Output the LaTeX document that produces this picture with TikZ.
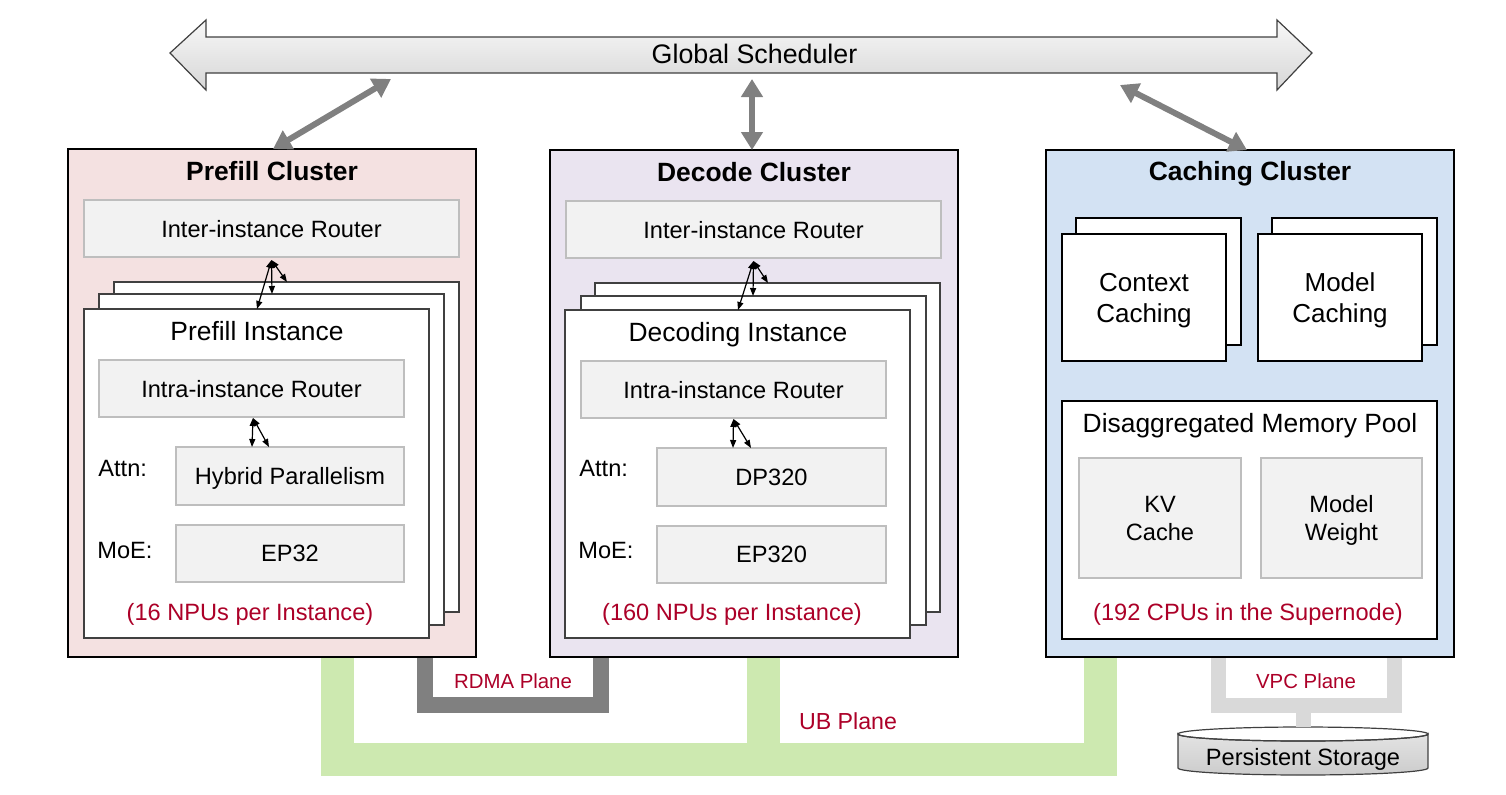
\documentclass[tikz,border=0pt]{standalone}
\usepackage{fontspec}
\setmainfont{Liberation Sans}
\usetikzlibrary{arrows.meta,calc}
\definecolor{pfill}{RGB}{244,225,225}
\definecolor{dfill}{RGB}{234,228,240}
\definecolor{cfill}{RGB}{211,226,243}
\definecolor{rfill}{RGB}{242,242,242}
\definecolor{rdraw}{RGB}{190,190,190}
\definecolor{idraw}{RGB}{64,64,64}
\definecolor{arrgray}{RGB}{128,128,128}
\definecolor{ubgreen}{RGB}{205,233,176}
\definecolor{vpcgray}{RGB}{217,217,217}
\definecolor{redtxt}{RGB}{172,0,40}
\newcommand\mkbox[7]{\node[#1,inner sep=0pt,outer sep=0pt,minimum width={(#4-#2)*0.5pt},minimum height={(#5-#3)*0.5pt}] (#6) at ({(#2+#4)/2},{(#3+#5)/2}) {#7};}
\tikzset{
  cluster/.style={draw=black,line width=1pt},
  rbox/.style={draw=rdraw,fill=rfill,line width=0.6pt,font=\fontsize{11.8}{14}\selectfont,align=center,text depth=0pt},
  ibox/.style={draw=idraw,fill=white,line width=0.6pt},
  wbox/.style={draw=black,fill=white,line width=0.6pt,font=\fontsize{13}{15.5}\selectfont,align=center,text depth=0pt},
  ttl/.style={font=\bfseries\fontsize{13.2}{15}\selectfont,inner sep=0pt,text depth=0pt},
  itl/.style={font=\fontsize{13.2}{15}\selectfont,inner sep=0pt,text depth=0pt},
  lbl/.style={font=\fontsize{11.8}{14}\selectfont,inner sep=0pt,text depth=0pt},
  redlbl/.style={font=\fontsize{11.8}{14}\selectfont,text=redtxt,inner sep=0pt,text depth=0pt},
  planelbl/.style={font=\fontsize{10.2}{12}\selectfont,text=redtxt,inner sep=0pt,text depth=0pt},
  bigarr/.style={draw=arrgray,line width=3pt,arrows={Triangle[length=9pt,width=10.5pt]-Triangle[length=9pt,width=10.5pt]}},
  smallarr/.style={draw=black,line width=0.6pt,arrows={Triangle[length=4pt,width=3pt]-Triangle[length=4pt,width=3pt]}},
  ubline/.style={draw=ubgreen,line width=16.5pt,line cap=butt,line join=miter},
  rdmaline/.style={draw=arrgray,line width=8pt,line cap=butt,line join=miter},
  vpcline/.style={draw=vpcgray,line width=7.5pt,line cap=butt,line join=miter}
}
\begin{document}
\begin{tikzpicture}[x=0.5pt,y=-0.5pt]
\useasboundingbox (0,0) rectangle (1506,794);

% ---- Global scheduler ----
\shade[top color=gray!6,bottom color=gray!32,draw=idraw,line width=0.6pt]
  (170,53) -- (206,20) -- (206,37) -- (1277,37) -- (1277,20) -- (1312,53)
  -- (1277,90) -- (1277,73) -- (206,73) -- (206,90) -- cycle;
\node[font=\fontsize{13.4}{15}\selectfont,inner sep=0pt,text depth=0pt] (gs) at (754.5,54) {Global Scheduler};
\coordinate (gsP) at (391,79);
\coordinate (gsD) at (752,79);
\coordinate (gsC) at (1120,85);

% ---- clusters ----
\mkbox{cluster,fill=pfill}{68}{149}{476}{657}{pc}{}
\mkbox{cluster,fill=dfill}{550}{150}{958}{657}{dc}{}
\mkbox{cluster,fill=cfill}{1046}{150}{1454}{657}{cc}{}

% ---- planes ----
\draw[ubline] ($(pc.south west)+(269.5,0)$) -- (337.5,759.5) -- (1100.5,759.5) -- ($(cc.south west)+(54.5,0)$);
\draw[ubline] ($(dc.south west)+(213.5,0)$) -- (763.5,759.5);
\draw[rdmaline] ($(pc.south west)+(357,0)$) -- (425,705) -- (601,705) -- ($(dc.south west)+(51,0)$);
\draw[vpcline] ($(cc.south west)+(172.5,0)$) -- (1218.5,705.5) -- (1394.5,705.5) -- ($(cc.south west)+(348.5,0)$);
\coordinate (vpcmid) at (1303.5,702);

% redraw cluster borders on top
\draw[cluster] (pc.south west) rectangle (pc.north east);
\draw[cluster] (dc.south west) rectangle (dc.north east);
\draw[cluster] (cc.south west) rectangle (cc.north east);

% ---- persistent storage ----
\shade[top color=gray!22,bottom color=gray!40,draw=idraw,line width=0.6pt]
  (1178,734) -- (1178,768) arc[start angle=180,end angle=0,x radius=125,y radius=7]
  -- (1428,734) arc[start angle=0,end angle=180,x radius=125,y radius=7] -- cycle;
\draw[idraw,line width=0.6pt] (1303,734) ellipse[x radius=125,y radius=7];
\node[lbl] (ps) at (1303,757) {Persistent Storage};
\draw[vpcline] (vpcmid) -- (1303.5,727);

% ---- Prefill cluster ----
\node[ttl] (pct) at (272,171) {Prefill Cluster};
\mkbox{rbox}{84}{200}{459}{257}{pir}{Inter-instance Router}
\mkbox{ibox}{114}{282}{459}{612}{pback}{}
\mkbox{ibox}{99}{294}{444}{625}{pmid}{}
\mkbox{ibox}{84}{309}{429}{638}{pfront}{}
\node[itl] (pit) at (257,331) {Prefill Instance};
\mkbox{rbox}{99}{360}{404}{417}{pirr}{Intra-instance Router}
\mkbox{rbox}{176}{447}{404}{505}{php}{Hybrid Parallelism}
\mkbox{rbox}{176}{525}{404}{582}{pep}{EP32}
\node[lbl,anchor=west] (pat) at (98,468) {Attn:};
\node[lbl,anchor=west] (pmo) at (97,550) {MoE:};
\node[redlbl] (pnp) at (250,612) {(16 NPUs per Instance)};
\draw[smallarr] ($(pir.south)+(0,3)$) -- ($(pfront.north west)+(173,0)$);
\draw[smallarr] ($(pir.south)+(0,3)$) -- ($(pmid.north west)+(173,0)$);
\draw[smallarr] ($(pir.south)+(0,3)$) -- ($(pback.north west)+(173,0)$);
\draw[smallarr] ($(pirr.south)+(1.5,1)$) -- ($(php.north west)+(76,0)$);
\draw[smallarr] ($(pirr.south)+(1.5,1)$) -- ($(php.north west)+(93,0)$);

% ---- Decode cluster ----
\node[ttl] (dct) at (754,172) {Decode Cluster};
\mkbox{rbox}{566}{201}{941}{258}{dir}{Inter-instance Router}
\mkbox{ibox}{595}{283}{940}{612}{dback}{}
\mkbox{ibox}{581}{296}{926}{625}{dmid}{}
\mkbox{ibox}{565}{310}{910}{638}{dfront}{}
\node[itl] (dit) at (738,332) {Decoding Instance};
\mkbox{rbox}{581}{361}{886}{418}{dirr}{Intra-instance Router}
\mkbox{rbox}{657}{448}{886}{506}{ddp}{DP320}
\mkbox{rbox}{657}{526}{886}{583}{dep}{EP320}
\node[lbl,anchor=west] (dat) at (579,468) {Attn:};
\node[lbl,anchor=west] (dmo) at (578,550) {MoE:};
\node[redlbl] (dnp) at (732,612) {(160 NPUs per Instance)};
\draw[smallarr] ($(dir.south)+(0,3)$) -- ($(dfront.north west)+(173,0)$);
\draw[smallarr] ($(dir.south)+(0,3)$) -- ($(dmid.north west)+(172,0)$);
\draw[smallarr] ($(dir.south)+(0,3)$) -- ($(dback.north west)+(173,0)$);
\draw[smallarr] ($(dirr.south)+(0,1)$) -- ($(ddp.north west)+(76,0)$);
\draw[smallarr] ($(dirr.south)+(0,1)$) -- ($(ddp.north west)+(94,0)$);

% ---- Caching cluster ----
\node[ttl] (cct) at (1250,171) {Caching Cluster};
\mkbox{wbox}{1076}{218}{1241}{345}{ctxb}{}
\mkbox{wbox}{1062}{234}{1226}{361}{ctx}{Context\\Caching}
\mkbox{wbox}{1272}{218}{1437}{345}{mdlb}{}
\mkbox{wbox}{1258}{234}{1422}{361}{mdl}{Model\\Caching}
\mkbox{wbox}{1062}{401}{1437}{639}{pool}{}
\node[itl] (poolt) at (1250,423) {Disaggregated Memory Pool};
\mkbox{rbox}{1079}{458}{1241}{578}{kv}{KV\\Cache}
\mkbox{rbox}{1261}{458}{1422}{578}{mw}{Model\\Weight}
\node[redlbl] (cnp) at (1248,612) {(192 CPUs in the Supernode)};

% ---- plane labels ----
\node[planelbl] (rdmal) at (513,681) {RDMA Plane};
\node[font=\fontsize{11.6}{14}\selectfont,text=redtxt,inner sep=0pt,text depth=0pt] (ubl) at (848,721) {UB Plane};
\node[planelbl] (vpcl) at (1306,681) {VPC Plane};

% ---- scheduler arrows ----
\draw[bigarr] ($(pc.north west)+(205,0)$) -- (gsP);
\draw[bigarr] ($(dc.north west)+(202,0)$) -- (gsD);
\draw[bigarr] ($(cc.north west)+(201,0)$) -- (gsC);
\end{tikzpicture}
\end{document}
